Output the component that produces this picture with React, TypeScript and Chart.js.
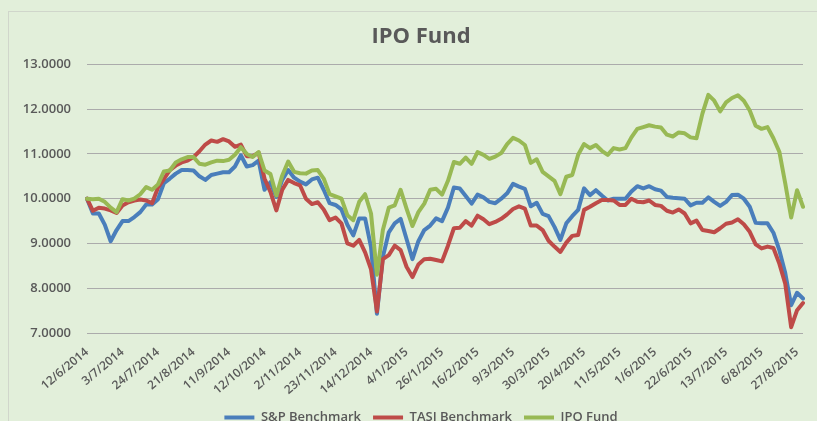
import { useEffect, useRef } from 'react';
import { Chart, registerables } from 'chart.js';

Chart.register(...registerables);

const chartTitle = 'IPO Fund';
const seriesNames = ['S&P Benchmark', 'TASI Benchmark', 'IPO Fund'];
const seriesColors = ['#4A7EBB', '#BE4B48', '#98B954'];

const tickLabels = [
  '12/6/2014', '3/7/2014', '24/7/2014', '21/8/2014', '11/9/2014', '12/10/2014',
  '2/11/2014', '23/11/2014', '14/12/2014', '4/1/2015', '26/1/2015', '16/2/2015',
  '9/3/2015', '30/3/2015', '20/4/2015', '11/5/2015', '1/6/2015', '22/6/2015',
  '13/7/2015', '6/8/2015', '27/8/2015',
];
const pointsPerTick = 6;

const spBenchmark = [
  10.0, 9.67, 9.67, 9.42, 9.05, 9.3, 9.5, 9.5, 9.59, 9.7,
  9.87, 9.87, 9.99, 10.35, 10.45, 10.56, 10.64, 10.64, 10.63, 10.5,
  10.42, 10.53, 10.56, 10.59, 10.59, 10.72, 10.97, 10.72, 10.75, 10.85,
  10.2, 10.37, 10.04, 10.42, 10.64, 10.47, 10.38, 10.32, 10.43, 10.47,
  10.2, 9.9, 9.86, 9.76, 9.42, 9.18, 9.56, 9.56, 8.92, 7.43,
  8.7, 9.25, 9.45, 9.55, 9.1, 8.65, 9.05, 9.3, 9.4, 9.56,
  9.5, 9.8, 10.25, 10.23, 10.06, 9.89, 10.09, 10.03, 9.93, 9.9,
  10.0, 10.12, 10.33, 10.27, 10.22, 9.83, 9.91, 9.66, 9.61, 9.37,
  9.08, 9.45, 9.61, 9.75, 10.23, 10.08, 10.19, 10.07, 9.96, 10.0,
  10.0, 10.0, 10.16, 10.28, 10.23, 10.28, 10.21, 10.18, 10.04, 10.02,
  10.01, 10.0, 9.85, 9.91, 9.91, 10.03, 9.93, 9.84, 9.93, 10.08,
  10.09, 10.0, 9.82, 9.46, 9.45, 9.45, 9.24, 8.85, 8.34, 7.62,
  7.9, 7.77,
];

const tasiBenchmark = [
  10.0, 9.73, 9.8, 9.78, 9.74, 9.68, 9.85, 9.92, 9.96, 9.98,
  9.96, 9.9, 10.25, 10.44, 10.64, 10.74, 10.81, 10.85, 10.93, 11.06,
  11.21, 11.3, 11.27, 11.33, 11.28, 11.16, 11.21, 10.95, 10.95, 11.03,
  10.45, 10.15, 9.74, 10.2, 10.42, 10.35, 10.3, 10.0, 9.88, 9.92,
  9.76, 9.52, 9.58, 9.45, 9.0, 8.95, 9.08, 8.8, 8.42, 7.48,
  8.65, 8.74, 8.95, 8.85, 8.48, 8.25, 8.53, 8.65, 8.66, 8.63,
  8.6, 8.95, 9.34, 9.35, 9.5, 9.4, 9.62, 9.54, 9.43, 9.48,
  9.55, 9.65, 9.77, 9.83, 9.78, 9.4, 9.4, 9.3, 9.06, 8.93,
  8.81, 9.02, 9.17, 9.19, 9.75, 9.82, 9.9, 9.97, 9.97, 9.96,
  9.86, 9.86, 10.0, 9.93, 9.92, 9.96, 9.86, 9.84, 9.73, 9.69,
  9.76, 9.67, 9.45, 9.51, 9.3, 9.28, 9.25, 9.34, 9.44, 9.47,
  9.54, 9.43, 9.26, 8.98, 8.89, 8.93, 8.9, 8.55, 8.1, 7.13,
  7.51, 7.67,
];

const ipoFund = [
  10.0, 9.99, 10.0, 9.93, 9.8, 9.7, 9.99, 9.96, 10.0, 10.1,
  10.26, 10.2, 10.32, 10.61, 10.63, 10.81, 10.88, 10.93, 10.93, 10.78,
  10.76, 10.81, 10.85, 10.84, 10.87, 10.98, 11.15, 11.0, 10.93, 11.04,
  10.63, 10.55, 10.07, 10.52, 10.83, 10.6, 10.57, 10.56, 10.63, 10.64,
  10.45, 10.1, 10.05, 10.0, 9.63, 9.52, 9.93, 10.1, 9.67, 8.3,
  9.3, 9.8, 9.85, 10.2, 9.78, 9.39, 9.7, 9.89, 10.2, 10.22,
  10.09, 10.4, 10.82, 10.78, 10.92, 10.78, 11.04, 10.98, 10.89, 10.94,
  11.02, 11.22, 11.36, 11.3, 11.2, 10.8, 10.88, 10.6, 10.5, 10.4,
  10.1, 10.49, 10.53, 10.98, 11.22, 11.13, 11.2, 11.07, 10.98, 11.13,
  11.1, 11.13, 11.37, 11.56, 11.6, 11.64, 11.61, 11.59, 11.43, 11.39,
  11.48, 11.46, 11.37, 11.35, 11.9, 12.32, 12.19, 11.95, 12.15, 12.25,
  12.31, 12.19, 11.97, 11.63, 11.56, 11.6, 11.35, 11.05, 10.34, 9.58,
  10.19, 9.82,
];

const yMin = 7;
const yMax = 13;
const yStep = 1;

const textColor = '#595959';
const fontFamily = "'Open Sans', 'DejaVu Sans', sans-serif";

export default function App() {
  const ref = useRef<HTMLCanvasElement>(null);

  useEffect(() => {
    const canvas = ref.current;
    if (!canvas) return;
    const labels = ipoFund.map((_, i) =>
      i % pointsPerTick === 0 ? tickLabels[i / pointsPerTick] ?? '' : ''
    );
    const seriesData = [spBenchmark, tasiBenchmark, ipoFund];
    const chart = new Chart(canvas, {
      type: 'line',
      data: {
        labels,
        datasets: seriesData.map((d, k) => ({
          label: seriesNames[k],
          data: d,
          borderColor: seriesColors[k],
          backgroundColor: seriesColors[k],
          borderWidth: 4,
          pointRadius: 0,
          tension: 0,
          borderCapStyle: 'round' as const,
          borderJoinStyle: 'round' as const,
          order: 3 - k,
          yAxisID: 'y',
        })),
      },
      options: {
        responsive: false,
        animation: false,
        events: [],
        layout: { padding: { left: 0, right: 0, top: 0, bottom: 0 } },
        plugins: {
          title: {
            display: true,
            text: chartTitle,
            color: textColor,
            font: { family: fontFamily, size: 22, weight: 'bold' },
            padding: { top: 12, bottom: 14 },
          },
          legend: {
            position: 'bottom',
            labels: {
              color: textColor,
              font: { family: fontFamily, size: 13, weight: 600 },
              boxWidth: 30,
              boxHeight: 4,
              padding: 12,
              sort: (a: any, b: any) => a.datasetIndex - b.datasetIndex,
              generateLabels: (c: any) =>
                Chart.defaults.plugins.legend.labels
                  .generateLabels(c)
                  .map((l: any) => ({ ...l, lineWidth: 0 })),
            },
          },
          tooltip: { enabled: false },
        },
        scales: {
          x: {
            type: 'category',
            offset: false,
            grid: { display: false },
            border: { display: false },
            ticks: {
              autoSkip: false,
              minRotation: 40,
              maxRotation: 40,
              padding: 4,
              color: textColor,
              font: { family: fontFamily, size: 12, weight: 600 },
            },
            afterFit: (s: any) => {
              s.height = 66;
            },
          },
          y: {
            min: yMin,
            max: yMax,
            grid: { color: '#ababab', lineWidth: 1, drawTicks: false },
            border: { display: false },
            ticks: {
              stepSize: yStep,
              padding: 16,
              color: textColor,
              font: { family: fontFamily, size: 13, weight: 600 },
              callback: (v: any) => Number(v).toFixed(4),
            },
            afterFit: (s: any) => {
              s.width = 78;
            },
          },
          yRight: {
            type: 'linear',
            position: 'right',
            display: true,
            min: yMin,
            max: yMax,
            grid: { display: false, drawTicks: false },
            border: { display: false },
            ticks: { display: false },
            afterFit: (s: any) => {
              s.width = 30;
            },
          },
        },
      },
    });
    return () => chart.destroy();
  }, []);

  return (
    <div
      style={{
        position: 'fixed',
        inset: 0,
        background: '#E2EFDA',
        overflow: 'hidden',
      }}
    >
      <div
        style={{
          position: 'absolute',
          left: 8,
          top: 11,
          width: 826,
          height: 440,
          border: '1px solid #d0d6cb',
          boxSizing: 'border-box',
        }}
      >
        <canvas ref={ref} width={824} height={422} style={{ display: 'block' }} />
      </div>
    </div>
  );
}
